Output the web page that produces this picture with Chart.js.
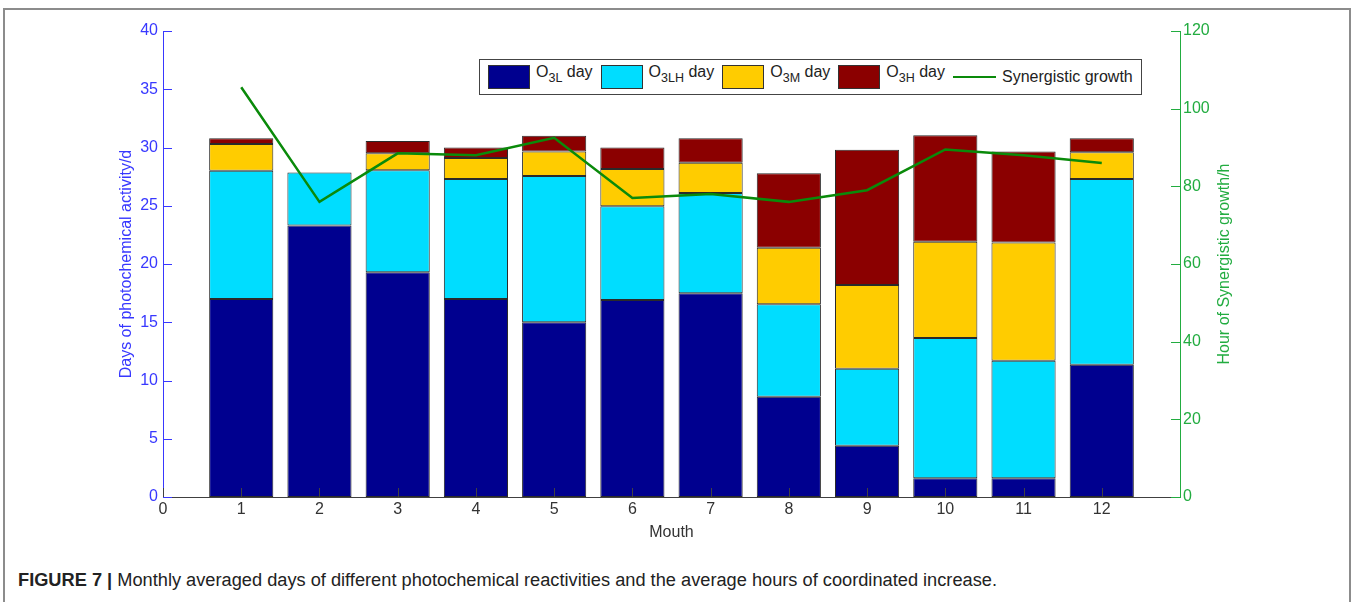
<!DOCTYPE html>
<html>
<head>
<meta charset="utf-8">
<title>Photochemical activity days by month</title>
<script src="https://cdn.jsdelivr.net/npm/chart.js@4/dist/chart.umd.min.js"></script>
<style>
  html, body { margin: 0; padding: 0; background: #fff; }
  body { width: 1352px; height: 602px; position: relative; overflow: hidden; font-family: "Liberation Sans", Arial, sans-serif; }
  .frame { position: absolute; left: 3px; top: 8px; width: 1344px; height: 700px; border: 2px solid #8c8c8c; }
  .chart-wrap { position: absolute; left: 0; top: 0; width: 1352px; height: 560px; }
  .legend { position: absolute; left: 479px; top: 59px; width: 663px; height: 36px; border: 1px solid #444; background: #fff;
            display: flex; align-items: center; box-sizing: border-box; padding-left: 8px; font-size: 16px; color: #222; }
  .legend-item { display: flex; align-items: center; margin-right: 8px; white-space: nowrap; }
  .legend-swatch { width: 42px; height: 24px; box-sizing: border-box; border: 1px solid #333; margin-right: 6px; }
  .legend-line { width: 43px; height: 0; border-top: 2.5px solid #0a8a0a; margin-right: 6px; }
  .legend sub { font-size: 12.5px; vertical-align: -5px; }
  .legend-text { position: relative; top: -3px; }
  .caption { position: absolute; left: 18px; top: 570px; font-size: 18px; color: #222; white-space: nowrap; transform-origin: 0 0; }
  .caption b { font-weight: bold; }
</style>
</head>
<body>
<div class="frame"></div>
<div class="chart-wrap"><canvas id="photochem-chart" width="1352" height="560"></canvas></div>
<div class="legend" id="photochem-legend"></div>
<div class="caption" id="photochem-caption"><b>FIGURE 7 |</b> Monthly averaged days of different photochemical reactivities and the average hours of coordinated increase.</div>
<script>
  // month index on the x axis
  var months = [1, 2, 3, 4, 5, 6, 7, 8, 9, 10, 11, 12];

  // days per month in each reactivity class (stacked)
  var o3lDays  = [17.0, 23.3, 19.3, 17.0, 15.0, 16.9, 17.5, 8.6, 4.4, 1.6, 1.6, 11.35];
  var o3lhDays = [11.0, 4.55, 8.75, 10.3, 12.55, 8.05, 8.6, 7.95, 6.6, 12.05, 10.1, 15.95];
  var o3mDays  = [2.3, null, 1.45, 1.8, 2.1, 3.2, 2.6, 4.85, 7.2, 8.25, 10.15, 2.3];
  var o3hDays  = [0.5, null, 1.05, 0.9, 1.35, 1.85, 2.1, 6.4, 11.6, 9.15, 7.8, 1.2];

  // average hours of synergistic growth (right axis)
  var synergyHours = [105.5, 76, 88.5, 88, 92.5, 77, 78, 76, 79, 89.5, 88, 86];

  var seriesSubs = ['3L', '3LH', '3M', '3H'];
  var leftTicks = [0, 5, 10, 15, 20, 25, 30, 35, 40];
  var rightTicks = [0, 20, 40, 60, 80, 100, 120];
  var xTicks = [0, 1, 2, 3, 4, 5, 6, 7, 8, 9, 10, 11, 12];

  var LEFT_COLOR = '#3838ff';
  var RIGHT_COLOR = '#22ac40';
  var AXIS_GRAY = '#404040';
  var FONT = '"Liberation Sans", Arial, sans-serif';
  var FONT_SIZE = 16;

  function pairs(values) {
    return months.map(function (m, i) { return { x: m, y: values[i] }; });
  }

  function barSet(label, values, color) {
    return {
      type: 'bar',
      label: label,
      data: pairs(values),
      backgroundColor: color,
      borderColor: '#2a2a2a',
      borderWidth: 1,
      borderSkipped: false,
      yAxisID: 'y',
      stack: 'days',
      categoryPercentage: 0.82,
      barPercentage: 1,
      order: 2
    };
  }

  var datasets = [
    barSet('O3L day', o3lDays, '#00008f'),
    barSet('O3LH day', o3lhDays, '#00ddff'),
    barSet('O3M day', o3mDays, '#ffcc00'),
    barSet('O3H day', o3hDays, '#8b0000'),
    {
      type: 'line',
      label: 'Synergistic growth',
      data: pairs(synergyHours),
      yAxisID: 'y2',
      borderColor: '#0a8a0a',
      borderWidth: 2.5,
      pointRadius: 0,
      tension: 0,
      fill: false,
      order: 1
    }
  ];

  // inward tick marks and the right-hand title, drawn in MATLAB fashion
  var axisDecor = {
    id: 'axisDecor',
    afterDraw: function (chart) {
      var ctx = chart.ctx;
      var area = chart.chartArea;
      var sx = chart.scales.x, sy = chart.scales.y, sy2 = chart.scales.y2;
      var len = 9;
      ctx.save();
      ctx.lineWidth = 1;

      ctx.strokeStyle = AXIS_GRAY;
      xTicks.forEach(function (v) {
        var px = Math.round(sx.getPixelForValue(v)) + 0.5;
        ctx.beginPath(); ctx.moveTo(px, area.bottom); ctx.lineTo(px, area.bottom - len); ctx.stroke();
      });

      ctx.strokeStyle = LEFT_COLOR;
      leftTicks.forEach(function (v) {
        var py = Math.round(sy.getPixelForValue(v)) + 0.5;
        ctx.beginPath(); ctx.moveTo(area.left, py); ctx.lineTo(area.left + len, py); ctx.stroke();
      });

      ctx.strokeStyle = RIGHT_COLOR;
      rightTicks.forEach(function (v) {
        var py = Math.round(sy2.getPixelForValue(v)) + 0.5;
        ctx.beginPath(); ctx.moveTo(area.right, py); ctx.lineTo(area.right - len, py); ctx.stroke();
      });

      ctx.translate(1225, (area.top + area.bottom) / 2);
      ctx.rotate(-Math.PI / 2);
      ctx.fillStyle = RIGHT_COLOR;
      ctx.font = FONT_SIZE + 'px ' + FONT;
      ctx.textAlign = 'center';
      ctx.textBaseline = 'middle';
      ctx.fillText('Hour of Synergistic growth/h', 0, 0);
      ctx.restore();
    }
  };

  var chart = new Chart(document.getElementById('photochem-chart'), {
    data: { datasets: datasets },
    plugins: [axisDecor],
    options: {
      responsive: false,
      animation: false,
      events: [],
      layout: { padding: { top: 31, left: 0, right: 0, bottom: 0 } },
      plugins: { legend: { display: false }, tooltip: { enabled: false } },
      scales: {
        x: {
          type: 'linear',
          min: 0,
          max: 13,
          offset: false,
          stacked: true,
          z: 1,
          grid: { display: false, drawTicks: false },
          border: { display: true, color: AXIS_GRAY, width: 1 },
          afterBuildTicks: function (scale) {
            scale.ticks = xTicks.map(function (v) { return { value: v }; });
          },
          ticks: {
            color: '#333',
            padding: 3,
            maxRotation: 0,
            autoSkip: false,
            font: { family: FONT, size: FONT_SIZE }
          },
          title: {
            display: true,
            text: 'Mouth',
            color: '#333',
            font: { family: FONT, size: FONT_SIZE },
            padding: { top: 0, bottom: 18 }
          },
          afterFit: function (scale) { scale.height = 560 - 497; }
        },
        y: {
          position: 'left',
          min: 0,
          max: 40,
          stacked: true,
          z: 1,
          grid: { display: false, drawTicks: false },
          border: { display: true, color: LEFT_COLOR, width: 1 },
          afterBuildTicks: function (scale) {
            scale.ticks = leftTicks.map(function (v) { return { value: v }; });
          },
          ticks: { color: LEFT_COLOR, padding: 5, font: { family: FONT, size: FONT_SIZE } },
          title: {
            display: true,
            text: 'Days of photochemical activity/d',
            color: LEFT_COLOR,
            font: { family: FONT, size: FONT_SIZE },
            padding: { top: 117, bottom: 0 }
          },
          afterFit: function (scale) { scale.width = 163; }
        },
        y2: {
          position: 'right',
          min: 0,
          max: 120,
          stacked: false,
          z: 1,
          grid: { display: false, drawTicks: false },
          border: { display: true, color: RIGHT_COLOR, width: 1 },
          afterBuildTicks: function (scale) {
            scale.ticks = rightTicks.map(function (v) { return { value: v }; });
          },
          ticks: { color: RIGHT_COLOR, padding: 3, font: { family: FONT, size: FONT_SIZE } },
          afterFit: function (scale) { scale.width = 1352 - 1180; }
        }
      }
    }
  });

  // html legend, so the ozone class names can carry subscripts
  var legendEl = document.getElementById('photochem-legend');
  chart.data.datasets.forEach(function (ds, i) {
    var item = document.createElement('div');
    item.className = 'legend-item';
    if (ds.type === 'bar') {
      item.innerHTML = '<span class="legend-swatch" style="background:' + ds.backgroundColor + '"></span>' +
        '<span class="legend-text">O<sub>' + seriesSubs[i] + '</sub> day</span>';
    } else {
      item.innerHTML = '<span class="legend-line"></span><span>' + ds.label + '</span>';
    }
    legendEl.appendChild(item);
  });

  // squeeze the caption to its column width
  var cap = document.getElementById('photochem-caption');
  cap.style.transform = 'scaleX(' + (979 / cap.getBoundingClientRect().width) + ')';
</script>
</body>
</html>
